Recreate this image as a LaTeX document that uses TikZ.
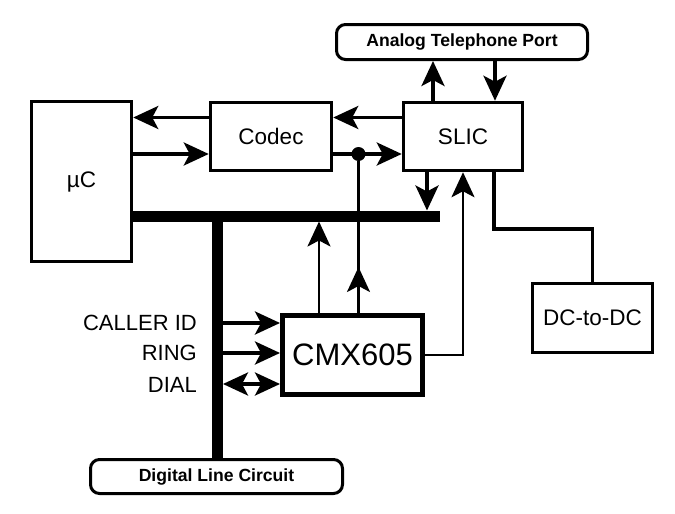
\documentclass[tikz,border=0pt]{standalone}
\usepackage{fontspec}
\setmainfont{Liberation Sans}
\usetikzlibrary{arrows.meta}
\begin{document}
\begin{tikzpicture}[x=1pt,y=-1pt,
  blk/.style={draw, line width=3.5pt, inner sep=0pt, font=\fontsize{22.5}{24}\selectfont},
  portbox/.style={draw, line width=3pt, rounded corners=9pt, inner sep=0pt, font=\bfseries\fontsize{17.6}{19}\selectfont},
  hd/.tip={Stealth[length=25pt,width=23pt,inset=6pt]},
  arr/.style={line width=3.5pt, -hd},
  thinarr/.style={line width=2.5pt, -hd},
  thinwire/.style={line width=2.5pt},
  wire/.style={line width=3.5pt},
  bus/.style={line width=11pt},
  lbl/.style={anchor=east, inner sep=0pt, font=\fontsize{22}{24}\selectfont}
]
\useasboundingbox (0,0) rectangle (675,514);

% blocks
\node[blk, minimum width=100pt, minimum height=160pt] (uc) at (81.5,181.5) {µC};
\node[blk, minimum width=121pt, minimum height=68pt] (codec) at (271,136.5) {Codec};
\node[blk, minimum width=119pt, minimum height=68pt] (slic) at (463,136.5) {SLIC};
\node[portbox, minimum width=251pt, minimum height=35pt] (atp) at (462,42) {Analog Telephone Port};
\node[blk, line width=5pt, minimum width=140pt, minimum height=79pt, font=\fontsize{31}{33}\selectfont] (cmx) at (352.5,355) {CMX605};
\node[blk, minimum width=120pt, minimum height=69pt] (dcdc) at (592.5,318) {DC-to-DC};
\node[portbox, minimum width=252pt, minimum height=34pt] (dlc) at (216.5,476.5) {Digital Line Circuit};

% helper coordinates
\coordinate (busR) at (440,216);
\coordinate (busJ) at (217.5,216);
\coordinate (busTop) at (440,210.5);
\coordinate (busBot) at (440,221.5);
\coordinate (busE) at (223,300);
\coordinate (dcbend) at (592.5,229);
\coordinate (midpt) at (358.5,267);

% buses
\draw[bus] (uc.east |- busR) -- (busR);
\draw[bus] (busJ) -- (dlc.north -| busJ);

% codec / uC / slic
\draw[arr] ([yshift=19pt]codec.west) -- ([yshift=19pt]codec.west -| uc.east);
\draw[arr] ([yshift=-17.5pt]codec.west -| uc.east) -- ([yshift=-17.5pt]codec.west);
\draw[arr] ([yshift=19pt]slic.west) -- ([yshift=19pt]codec.east);
\draw[arr] ([yshift=-17.5pt]codec.east) -- ([yshift=-17.5pt]slic.west);
\node[circle, fill, minimum size=14pt, inner sep=0pt] (dot) at (358.5,154) {};

% slic / port
\draw[arr] ([xshift=-30pt]slic.north) -- ([xshift=-30pt]slic.north |- atp.south);
\draw[arr] ([xshift=32pt]slic.north |- atp.south) -- ([xshift=32pt]slic.north);

% slic to bus
\draw[arr] ([xshift=-36pt]slic.south) -- ([xshift=-36pt]slic.south |- busTop);

% slic to dc-dc
\draw[wire] ([xshift=31pt]slic.south) |- (dcbend) -- (dcdc.north);

% cmx connections
\draw[thinarr] (cmx.east) -| (slic.south);
\draw[thinarr] ([xshift=-33.5pt]cmx.north) -- ([xshift=-33.5pt]cmx.north |- busBot);
\draw[thinwire] (dot |- cmx.north) -- (dot);
\draw[thinarr] (dot |- cmx.north) -- (midpt);

% bus to cmx
\draw[arr] ([yshift=32pt]cmx.west -| busE) -- ([yshift=32pt]cmx.west);
\draw[arr] ([yshift=2pt]cmx.west -| busE) -- ([yshift=2pt]cmx.west);
\draw[line width=3.5pt, hd-hd] ([yshift=-29pt]cmx.west -| busE) -- ([yshift=-29pt]cmx.west);

% labels
\node[lbl] (lcid) at (197,323) {CALLER ID};
\node[lbl] (lring) at (197,352.5) {RING};
\node[lbl] (ldial) at (197,385) {DIAL};
\end{tikzpicture}
\end{document}
